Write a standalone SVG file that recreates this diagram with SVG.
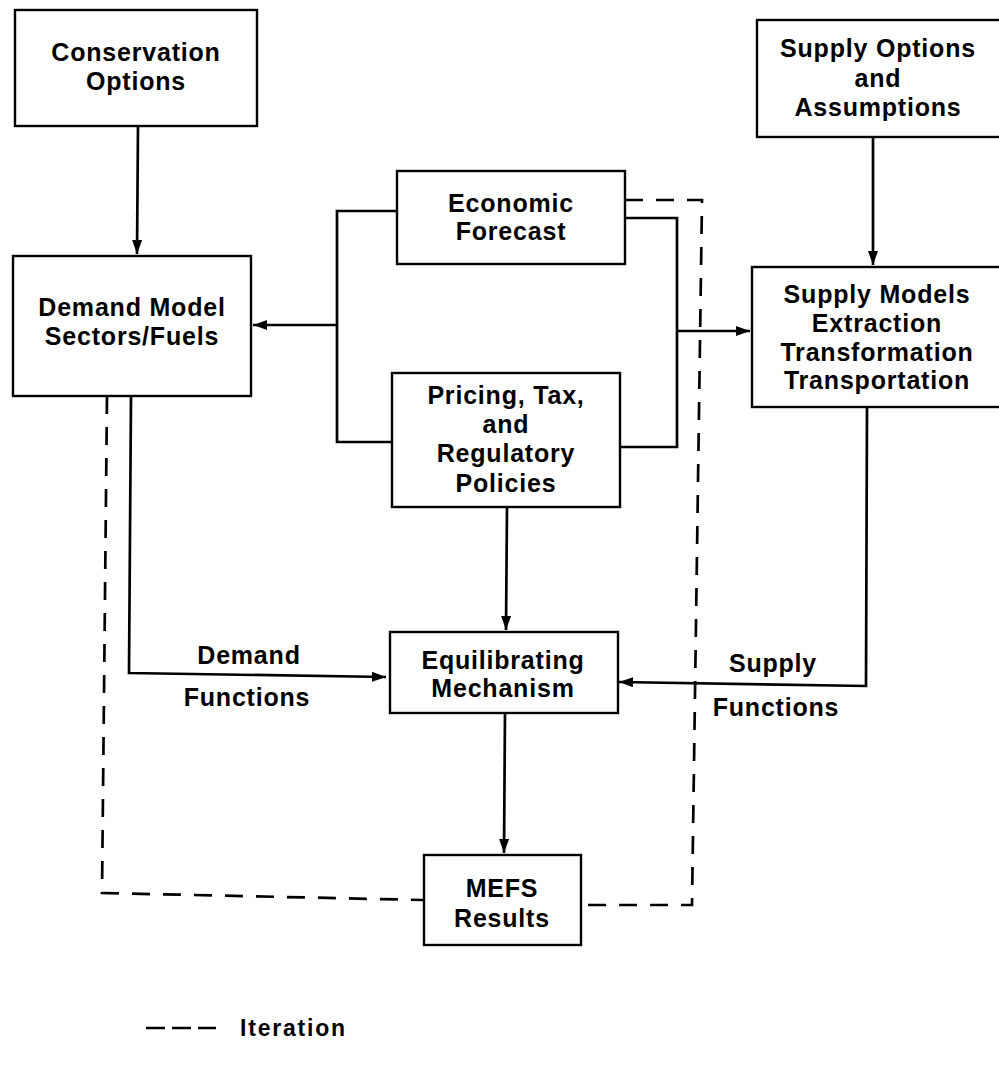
<svg xmlns="http://www.w3.org/2000/svg" width="999" height="1076" viewBox="0 0 999 1076">
<defs>
<marker id="ah" viewBox="0 0 14 10" refX="14" refY="5" markerWidth="14" markerHeight="10" markerUnits="userSpaceOnUse" orient="auto">
<path d="M0,0 L14,5 L0,10 Z" fill="#000"/>
</marker>
</defs>
<style>
.box{fill:#fff;stroke:#000;stroke-width:2.4}
.t{font-family:"Liberation Sans",Arial,sans-serif;font-weight:bold;font-size:25px;letter-spacing:0.8px;text-anchor:middle;fill:#000}
.c{fill:none;stroke:#000;stroke-width:2.7}
.a{fill:none;stroke:#000;stroke-width:2.7;marker-end:url(#ah)}
.d{fill:none;stroke:#000;stroke-width:2.7;stroke-dasharray:18 13}
</style>
<rect width="999" height="1076" fill="#fff"/>
<g id="connectors">
<path class="a" d="M138,126 L137,254"/>
<path class="c" d="M397,211 L337,211 L337,442 L392,442"/>
<path class="a" d="M337,325 L253,325"/>
<path class="c" d="M625,218 L677,218 L677,447 L620,447"/>
<path class="a" d="M677,331 L750,331"/>
<path class="a" d="M873,137 L873,265"/>
<path class="a" d="M507,507 L506,630"/>
<path class="a" d="M505,713 L504,853"/>
<path class="a" d="M131,396 L129,673 L386,677"/>
<path class="a" d="M867,407 L866,686 L619,682"/>
<path class="d" d="M107,396 L102,893 L423,900"/>
<path class="d" d="M625,200 L702,200 L692,905 L582,905"/>
</g>
<g id="conservation">
<rect class="box" x="15" y="10" width="242" height="116"/>
<text class="t" x="136" y="61">Conservation</text>
<text class="t" x="136" y="90">Options</text>
</g>
<g id="demand">
<rect class="box" x="13" y="256" width="238" height="140"/>
<text class="t" x="132" y="316">Demand Model</text>
<text class="t" x="132" y="345">Sectors/Fuels</text>
</g>
<g id="economic">
<rect class="box" x="397" y="171" width="228" height="93"/>
<text class="t" x="511" y="212">Economic</text>
<text class="t" x="511" y="240">Forecast</text>
</g>
<g id="pricing">
<rect class="box" x="392" y="373" width="228" height="134"/>
<text class="t" x="506" y="404">Pricing, Tax,</text>
<text class="t" x="506" y="433">and</text>
<text class="t" x="506" y="462">Regulatory</text>
<text class="t" x="506" y="492">Policies</text>
</g>
<g id="supplyoptions">
<rect class="box" x="757" y="20" width="250" height="117"/>
<text class="t" x="878" y="57">Supply Options</text>
<text class="t" x="878" y="87">and</text>
<text class="t" x="878" y="116">Assumptions</text>
</g>
<g id="supplymodels">
<rect class="box" x="752" y="267" width="255" height="140"/>
<text class="t" x="877" y="303">Supply Models</text>
<text class="t" x="877" y="332">Extraction</text>
<text class="t" x="877" y="361">Transformation</text>
<text class="t" x="877" y="389">Transportation</text>
</g>
<g id="equilibrating">
<rect class="box" x="390" y="632" width="228" height="81"/>
<text class="t" x="503" y="669">Equilibrating</text>
<text class="t" x="503" y="697">Mechanism</text>
</g>
<g id="mefs">
<rect class="box" x="424" y="855" width="157" height="90"/>
<text class="t" x="502" y="897">MEFS</text>
<text class="t" x="502" y="927">Results</text>
</g>
<g id="labels">
<text class="t" x="249" y="664">Demand</text>
<text class="t" x="247" y="706">Functions</text>
<text class="t" x="773" y="672">Supply</text>
<text class="t" x="776" y="716">Functions</text>
</g>
<g id="legend">
<path d="M146,1028 L216,1028" fill="none" stroke="#000" stroke-width="2.7" stroke-dasharray="19 7"/>
<text class="t" x="240" y="1036" style="text-anchor:start;font-size:23px;letter-spacing:1.8px">Iteration</text>
</g>
</svg>
